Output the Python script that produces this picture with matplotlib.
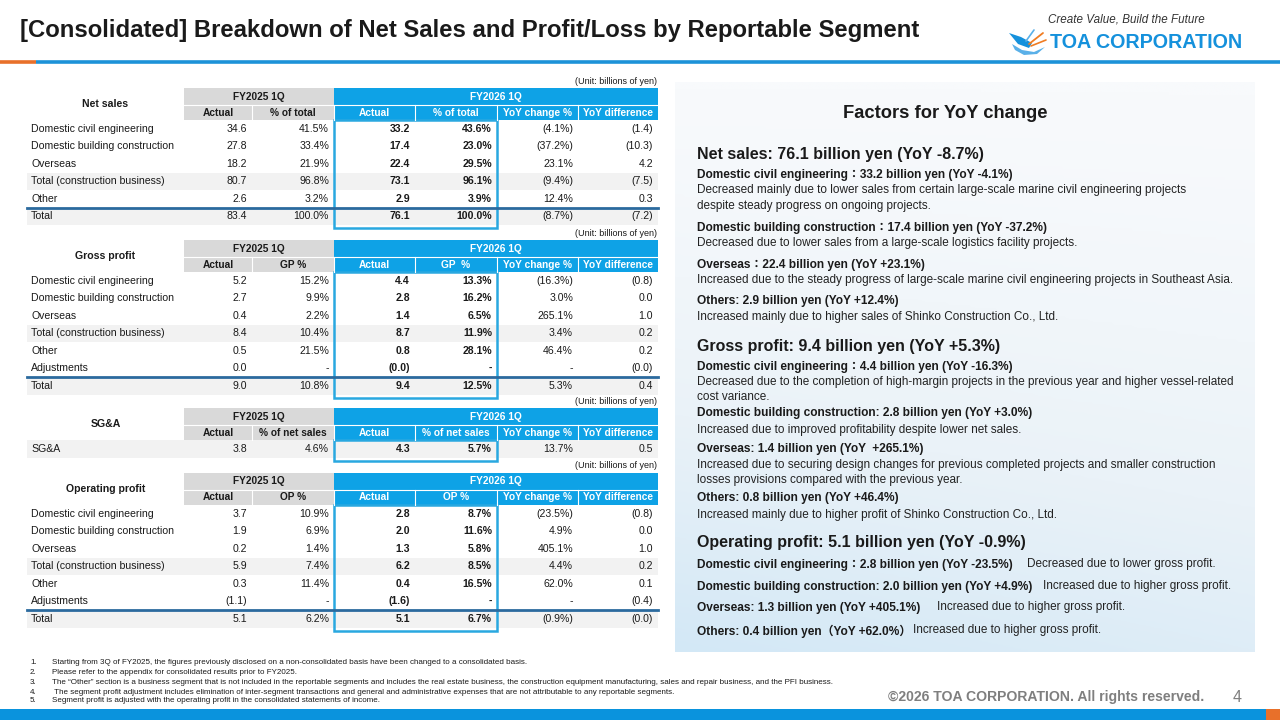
"""Segment breakdown slide: net sales / gross profit / SG&A / operating profit tables + factors panel"""

import matplotlib
matplotlib.use('Agg')
import matplotlib.pyplot as plt
from matplotlib.patches import Rectangle, Polygon
from matplotlib.colors import LinearSegmentedColormap
import numpy as np

plt.rcParams['font.family'] = ['Liberation Sans', 'Noto Sans CJK JP', 'DejaVu Sans']

# ==================== data ====================
title = '[Consolidated] Breakdown of Net Sales and Profit/Loss by Reportable Segment'
unit_label = '(Unit: billions of yen)'
period_prev = 'FY2025 1Q'
period_curr = 'FY2026 1Q'
yoy_heads = ['YoY change %', 'YoY difference']

# Net sales
ns_rows = ['Domestic civil engineering', 'Domestic building construction', 'Overseas',
           'Total (construction business)', 'Other', 'Total']
ns_prev_actual = ['34.6', '27.8', '18.2', '80.7', '2.6', '83.4']
ns_prev_share = ['41.5%', '33.4%', '21.9%', '96.8%', '3.2%', '100.0%']
ns_curr_actual = ['33.2', '17.4', '22.4', '73.1', '2.9', '76.1']
ns_curr_share = ['43.6%', '23.0%', '29.5%', '96.1%', '3.9%', '100.0%']
ns_yoy_pct = ['(4.1%)', '(37.2%)', '23.1%', '(9.4%)', '12.4%', '(8.7%)']
ns_yoy_diff = ['(1.4)', '(10.3)', '4.2', '(7.5)', '0.3', '(7.2)']

# Gross profit
gp_rows = ['Domestic civil engineering', 'Domestic building construction', 'Overseas',
           'Total (construction business)', 'Other', 'Adjustments', 'Total']
gp_prev_actual = ['5.2', '2.7', '0.4', '8.4', '0.5', '0.0', '9.0']
gp_prev_margin = ['15.2%', '9.9%', '2.2%', '10.4%', '21.5%', '-', '10.8%']
gp_curr_actual = ['4.4', '2.8', '1.4', '8.7', '0.8', '(0.0)', '9.4']
gp_curr_margin = ['13.3%', '16.2%', '6.5%', '11.9%', '28.1%', '-', '12.5%']
gp_yoy_pct = ['(16.3%)', '3.0%', '265.1%', '3.4%', '46.4%', '-', '5.3%']
gp_yoy_diff = ['(0.8)', '0.0', '1.0', '0.2', '0.2', '(0.0)', '0.4']

# SG&A
sga_rows = ['SG&A']
sga_prev_actual = ['3.8']
sga_prev_ratio = ['4.6%']
sga_curr_actual = ['4.3']
sga_curr_ratio = ['5.7%']
sga_yoy_pct = ['13.7%']
sga_yoy_diff = ['0.5']

# Operating profit
op_rows = ['Domestic civil engineering', 'Domestic building construction', 'Overseas',
           'Total (construction business)', 'Other', 'Adjustments', 'Total']
op_prev_actual = ['3.7', '1.9', '0.2', '5.9', '0.3', '(1.1)', '5.1']
op_prev_margin = ['10.9%', '6.9%', '1.4%', '7.4%', '11.4%', '-', '6.2%']
op_curr_actual = ['2.8', '2.0', '1.3', '6.2', '0.4', '(1.6)', '5.1']
op_curr_margin = ['8.7%', '11.6%', '5.8%', '8.5%', '16.5%', '-', '6.7%']
op_yoy_pct = ['(23.5%)', '4.9%', '405.1%', '4.4%', '62.0%', '-', '(0.9%)']
op_yoy_diff = ['(0.8)', '0.0', '1.0', '0.2', '0.1', '(0.4)', '(0.0)']

# Factors panel
factor_title = 'Factors for YoY change'
ns_head = 'Net sales: 76.1 billion yen (YoY -8.7%)'
ns_sub = ['Domestic civil engineering：33.2 billion yen (YoY -4.1%)',
          'Domestic building construction：17.4 billion yen (YoY -37.2%)',
          'Overseas：22.4 billion yen (YoY +23.1%)',
          'Others: 2.9 billion yen (YoY +12.4%)']
ns_desc = [['Decreased mainly due to lower sales from certain large-scale marine civil engineering projects',
            'despite steady progress on ongoing projects.'],
           ['Decreased due to lower sales from a large-scale logistics facility projects.'],
           ['Increased due to the steady progress of large-scale marine civil engineering projects in Southeast Asia.'],
           ['Increased mainly due to higher sales of Shinko Construction Co., Ltd.']]
gp_head = 'Gross profit: 9.4 billion yen (YoY +5.3%)'
gp_sub = ['Domestic civil engineering：4.4 billion yen (YoY -16.3%)',
          'Domestic building construction: 2.8 billion yen (YoY +3.0%)',
          'Overseas: 1.4 billion yen (YoY  +265.1%)',
          'Others: 0.8 billion yen (YoY +46.4%)']
gp_desc = [['Decreased due to the completion of high-margin projects in the previous year and higher vessel-related',
            'cost variance.'],
           ['Increased due to improved profitability despite lower net sales.'],
           ['Increased due to securing design changes for previous completed projects and smaller construction',
            'losses provisions compared with the previous year.'],
           ['Increased mainly due to higher profit of Shinko Construction Co., Ltd.']]
op_head = 'Operating profit: 5.1 billion yen (YoY -0.9%)'
op_sub = ['Domestic civil engineering：2.8 billion yen (YoY -23.5%)',
          'Domestic building construction: 2.0 billion yen (YoY +4.9%)',
          'Overseas: 1.3 billion yen (YoY +405.1%)',
          'Others: 0.4 billion yen（YoY +62.0%）']
op_desc = ['Decreased due to lower gross profit.',
           'Increased due to higher gross profit.',
           'Increased due to higher gross profit.',
           'Increased due to higher gross profit.']

footnotes = [
    'Starting from 3Q of FY2025, the figures previously disclosed on a non-consolidated basis have been changed to a consolidated basis.',
    'Please refer to the appendix for consolidated results prior to FY2025.',
    'The “Other” section is a business segment that is not included in the reportable segments and includes the real estate business, the construction equipment manufacturing, sales and repair business, and the PFI business.',
    ' The segment profit adjustment includes elimination of inter-segment transactions and general and administrative expenses that are not attributable to any reportable segments.',
    'Segment profit is adjusted with the operating profit in the consolidated statements of income.',
]
copyright_text = '©2026 TOA CORPORATION. All rights reserved.'
page_no = '4'
slogan = 'Create Value, Build the Future'
company = 'TOA CORPORATION'

# ==================== styles ====================
GRAY = '#d9d9d9'
BLUE = '#0ea2e6'
LIGHT = '#f2f2f2'
NAVY = '#2b6a9e'
BOX = '#29a8e0'
LOGO_BLUE = '#1591dc'
TXT = '#1a1a1a'

COLS = [27, 184, 252, 334, 415, 497, 578, 658]
TFS = 7.6    # table body font size
HFS = 7.3    # table header font size

fig = plt.figure(figsize=(12.8, 7.2), dpi=100)
ax = fig.add_axes([0, 0, 1, 1])
ax.axis('off')


def draw_table(top, name, prev_heads, curr_heads, labels, columns, shaded, total_line):
    h1, h2, rh = 17, 15, 17.5
    x0, x1 = COLS[0], COLS[-1]
    ax.text(x1 - 1, top - 7, unit_label, ha='right', va='center', fontsize=6.5, color=TXT)
    ax.add_patch(Rectangle((COLS[1], top), COLS[3] - COLS[1], h1 + h2, fc=GRAY, ec='none'))
    ax.add_patch(Rectangle((COLS[3], top), x1 - COLS[3], h1 + h2, fc=BLUE, ec='none'))
    ax.text((x0 + COLS[1]) / 2, top + (h1 + h2) / 2, name, ha='center', va='center',
            fontsize=TFS, fontweight='bold', color=TXT)
    ax.text((COLS[1] + COLS[3]) / 2, top + h1 / 2, period_prev, ha='center', va='center',
            fontsize=HFS, fontweight='bold', color=TXT)
    ax.text((COLS[3] + x1) / 2, top + h1 / 2, period_curr, ha='center', va='center',
            fontsize=HFS, fontweight='bold', color='white')
    ax.plot([COLS[1], x1], [top + h1, top + h1], color='white', lw=0.8)
    subs = prev_heads + curr_heads + yoy_heads
    for i, s in enumerate(subs):
        xa, xb = COLS[i + 1], COLS[i + 2]
        ax.text((xa + xb) / 2, top + h1 + h2 / 2, s, ha='center', va='center', fontsize=HFS,
                fontweight='bold', color=TXT if i < 2 else 'white')
        if i > 0:
            ax.plot([xa, xa], [top + h1, top + h1 + h2], color='white', lw=0.8)
    y0 = top + h1 + h2
    n = len(labels)
    for r, lab in enumerate(labels):
        yc = y0 + rh * (r + 0.5)
        if r in shaded:
            ax.add_patch(Rectangle((x0, y0 + rh * r), x1 - x0, rh, fc=LIGHT, ec='none', zorder=0))
        ax.text(x0 + 4, yc, lab, ha='left', va='center', fontsize=TFS, color=TXT)
        for c, col in enumerate(columns):
            ax.text(COLS[c + 2] - 5, yc, col[r], ha='right', va='center', fontsize=TFS,
                    fontweight='bold' if c in (2, 3) else 'normal', color=TXT)
    if total_line:
        ax.plot([x0, x1], [y0 + rh * (n - 1)] * 2, color=NAVY, lw=2)
    ax.add_patch(Rectangle((COLS[3], y0), COLS[5] - COLS[3], rh * n + 3, fc='none', ec=BOX, lw=1.8))


# ==================== header / footer ====================
ax.text(20, 31, title, ha='left', va='center', fontsize=17.2, fontweight='bold', color=TXT)
ax.text(1048, 19, slogan, ha='left', va='center', fontsize=8.4, style='italic', color='#333333')
ax.text(1050, 42, company, ha='left', va='center', fontsize=14.2, fontweight='bold', color=LOGO_BLUE)
# bird logo
ax.add_patch(Polygon([(1009, 33), (1021, 37), (1032, 43), (1029, 48), (1018, 44)],
                     closed=True, fc=LOGO_BLUE, ec='none'))
ax.add_patch(Polygon([(1012, 44), (1022, 50), (1034, 52), (1045, 47), (1037, 54), (1024, 55), (1015, 50)],
                     closed=True, fc='#5ab0e8', ec='none'))
ax.plot([1026, 1034], [41, 30], color='#5ab0e8', lw=1.2, solid_capstyle='round')
ax.plot([1029, 1043], [44, 33], color='#f07c22', lw=1.3, solid_capstyle='round')
ax.plot([1031, 1046], [46, 40], color='#f07c22', lw=1.2, solid_capstyle='round')

ax.plot([36, 1280], [62, 62], color='#1c92d8', lw=2.6, solid_capstyle='butt')
ax.plot([0, 36], [62, 62], color='#e8702a', lw=2.6, solid_capstyle='butt')

ax.add_patch(Rectangle((0, 709), 1266, 11, fc='#0a93dd', ec='none'))
ax.add_patch(Rectangle((1266, 709), 14, 11, fc='#e8702a', ec='none'))
ax.text(888, 697, copyright_text, ha='left', va='center', fontsize=10.1, fontweight='bold', color='#7f7f7f')
ax.text(1237, 697, page_no, ha='center', va='center', fontsize=11.5, color='#7f7f7f')

for i, note in enumerate(footnotes):
    y = [663, 673, 683, 692, 701][i]
    ax.text(30, y, f'{i + 1}.', ha='left', va='center', fontsize=5.8, color=TXT)
    ax.text(52, y, note, ha='left', va='center', fontsize=5.8, color=TXT)

# ==================== tables ====================
draw_table(88, 'Net sales', ['Actual', '% of total'], ['Actual', '% of total'], ns_rows,
           [ns_prev_actual, ns_prev_share, ns_curr_actual, ns_curr_share, ns_yoy_pct, ns_yoy_diff],
           shaded={3, 5}, total_line=True)
draw_table(240, 'Gross profit', ['Actual', 'GP %'], ['Actual', 'GP  %'], gp_rows,
           [gp_prev_actual, gp_prev_margin, gp_curr_actual, gp_curr_margin, gp_yoy_pct, gp_yoy_diff],
           shaded={3, 6}, total_line=True)
draw_table(408, 'SG&A', ['Actual', '% of net sales'], ['Actual', '% of net sales'], sga_rows,
           [sga_prev_actual, sga_prev_ratio, sga_curr_actual, sga_curr_ratio, sga_yoy_pct, sga_yoy_diff],
           shaded={0}, total_line=False)
draw_table(473, 'Operating profit', ['Actual', 'OP %'], ['Actual', 'OP %'], op_rows,
           [op_prev_actual, op_prev_margin, op_curr_actual, op_curr_margin, op_yoy_pct, op_yoy_diff],
           shaded={3, 6}, total_line=True)

# ==================== factors panel ====================
yy, xx = np.mgrid[0:1:200j, 0:1:200j]
shade = np.clip(0.75 * yy ** 1.4 + 0.25 * (1 - xx) * yy, 0, 1)
panel_cmap = LinearSegmentedColormap.from_list('panel', ['#f8fafc', '#eaf2f8', '#d3e8f6'])
ax.imshow(shade, cmap=panel_cmap, extent=(675, 1255, 652, 82), origin='upper',
          aspect='auto', zorder=0, interpolation='bilinear')

ax.text(945, 114, factor_title, ha='center', va='center', fontsize=13.2, fontweight='bold', color=TXT)

HEAD_FS, SUB_FS, DESC_FS = 11.5, 8.6, 8.5
PX = 697


def draw_block(head, head_y, subs, sub_ys, descs, desc_ys, step):
    ax.text(PX, head_y, head, ha='left', va='center', fontsize=HEAD_FS, fontweight='bold', color=TXT)
    for s, sy, d, dy in zip(subs, sub_ys, descs, desc_ys):
        ax.text(PX, sy, s, ha='left', va='center', fontsize=SUB_FS, fontweight='bold', color=TXT)
        for k, line in enumerate(d):
            ax.text(PX, dy + k * step, line, ha='left', va='center', fontsize=DESC_FS, color='#222222')


draw_block(ns_head, 155, ns_sub, [175, 228, 265, 301], ns_desc, [190, 243, 280, 317], 16.5)
draw_block(gp_head, 346, gp_sub, [367, 413, 449, 498], gp_desc, [382, 430, 465, 515], 15.5)

ax.text(PX, 543, op_head, ha='left', va='center', fontsize=HEAD_FS, fontweight='bold', color=TXT)
for s, d, sy, dx in zip(op_sub, op_desc, [565, 587, 608, 631], [1027, 1043, 937, 913]):
    ax.text(PX, sy, s, ha='left', va='center', fontsize=SUB_FS, fontweight='bold', color=TXT)
    ax.text(dx, sy - 1, d, ha='left', va='center', fontsize=DESC_FS, color='#222222')

ax.set_xlim(0, 1280)
ax.set_ylim(720, 0)

plt.savefig('out.png', dpi=100, facecolor='white')
